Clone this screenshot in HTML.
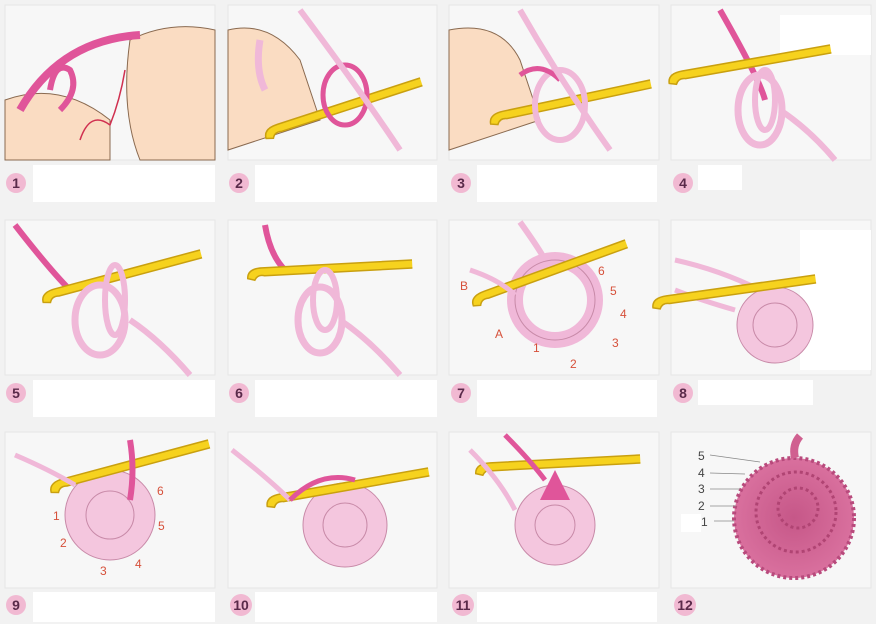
<!DOCTYPE html>
<html><head><meta charset="utf-8"><style>
html,body{margin:0;padding:0;background:#f2f2f2;}
svg{display:block;font-family:"Liberation Sans",sans-serif;}
</style></head><body>
<svg width="876" height="624" viewBox="0 0 876 624" xmlns="http://www.w3.org/2000/svg">
<defs>
<g id="hook"><path d="M0 0 L-150 0 Q-165 0 -165 10 L-158 12 Q-155 6 -148 8 L0 8" fill="#f6d21e" stroke="#c9a010" stroke-width="1.5"/></g>
<radialGradient id="cg" cx="50%" cy="50%" r="50%"><stop offset="0" stop-color="#c65788"/><stop offset="1" stop-color="#d9709e"/></radialGradient>
</defs>
<rect width="876" height="624" fill="#f2f2f2"/>
<!-- panels -->
<g fill="#f7f7f7" stroke="#e6e6e6">
<rect x="5" y="5" width="210" height="155"/><rect x="228" y="5" width="209" height="155"/><rect x="449" y="5" width="210" height="155"/><rect x="671" y="5" width="200" height="155"/>
<rect x="5" y="220" width="210" height="155"/><rect x="228" y="220" width="209" height="155"/><rect x="449" y="220" width="210" height="155"/><rect x="671" y="220" width="200" height="155"/>
<rect x="5" y="432" width="210" height="156"/><rect x="228" y="432" width="209" height="156"/><rect x="449" y="432" width="210" height="156"/><rect x="671" y="432" width="200" height="156"/>
</g>
<!-- label boxes -->
<g fill="#ffffff">
<rect x="33" y="165" width="182" height="37"/><rect x="255" y="165" width="182" height="37"/><rect x="477" y="165" width="180" height="37"/><rect x="698" y="165" width="44" height="25"/>
<rect x="33" y="380" width="182" height="37"/><rect x="255" y="380" width="182" height="37"/><rect x="477" y="380" width="180" height="37"/><rect x="698" y="380" width="115" height="25"/>
<rect x="33" y="592" width="182" height="30"/><rect x="255" y="592" width="182" height="30"/><rect x="477" y="592" width="180" height="30"/>
<rect x="780" y="15" width="91" height="40"/><rect x="800" y="230" width="71" height="140"/>
</g>
<!-- number circles -->
<g fill="#f1b9d2"><circle cx="16" cy="183" r="10"/><circle cx="239" cy="183" r="10"/><circle cx="461" cy="183" r="10"/><circle cx="683" cy="183" r="10"/>
<circle cx="16" cy="393" r="10"/><circle cx="239" cy="393" r="10"/><circle cx="461" cy="393" r="10"/><circle cx="683" cy="393" r="10"/>
<circle cx="16" cy="605" r="10"/><circle cx="241" cy="605" r="11"/><circle cx="463" cy="605" r="11"/><circle cx="685" cy="605" r="11"/></g>
<g fill="#5a2a4a" font-size="14" font-weight="bold" text-anchor="middle">
<text x="16" y="188">1</text><text x="239" y="188">2</text><text x="461" y="188">3</text><text x="683" y="188">4</text>
<text x="16" y="398">5</text><text x="239" y="398">6</text><text x="461" y="398">7</text><text x="683" y="398">8</text>
<text x="16" y="610">9</text><text x="241" y="610">10</text><text x="463" y="610">11</text><text x="685" y="610">12</text></g>

<!-- panel 1 -->
<path d="M5 100 Q60 80 110 120 L110 160 L5 160Z" fill="#fadcc2" stroke="#8a6a50"/>
<path d="M130 40 Q170 20 215 30 L215 160 L140 160 Q120 110 130 40Z" fill="#fadcc2" stroke="#8a6a50"/>
<path d="M20 110 Q60 40 140 35" fill="none" stroke="#e0559a" stroke-width="8"/>
<path d="M50 90 Q55 60 70 70 Q80 90 60 110" fill="none" stroke="#e0559a" stroke-width="6"/>
<path d="M80 140 Q90 110 110 125 Q120 100 125 70" fill="none" stroke="#d03050" stroke-width="1.5"/>
<!-- panel 2 -->
<path d="M228 30 Q270 20 300 60 L320 120 L228 150Z" fill="#fadcc2" stroke="#8a6a50"/>
<path d="M260 40 Q255 70 265 90" stroke="#f0b8d8" stroke-width="7" fill="none"/>
<use href="#hook" transform="translate(420 78) rotate(-18)"/>
<ellipse cx="345" cy="95" rx="22" ry="30" fill="none" stroke="#e0559a" stroke-width="5"/>
<path d="M300 10 Q360 90 400 150" stroke="#f0b8d8" stroke-width="6" fill="none"/>
<!-- panel 3 -->
<path d="M449 30 Q500 20 520 60 L540 120 L449 150Z" fill="#fadcc2" stroke="#8a6a50"/>
<use href="#hook" transform="translate(650 80) rotate(-12)"/>
<ellipse cx="560" cy="105" rx="25" ry="35" fill="none" stroke="#f0b8d8" stroke-width="6"/>
<path d="M520 75 Q540 60 560 80" stroke="#e0559a" stroke-width="5" fill="none"/>
<path d="M520 10 Q560 80 610 150" stroke="#f0b8d8" stroke-width="6" fill="none"/>
<!-- panel 4 -->
<path d="M720 10 Q760 80 765 100" stroke="#e0559a" stroke-width="6" fill="none"/>
<use href="#hook" transform="translate(830 45) rotate(-10)"/>
<ellipse cx="760" cy="110" rx="22" ry="35" fill="none" stroke="#f0b8d8" stroke-width="7"/>
<ellipse cx="765" cy="100" rx="10" ry="30" fill="none" stroke="#f0b8d8" stroke-width="6"/>
<path d="M780 110 Q810 130 835 160" stroke="#f0b8d8" stroke-width="6" fill="none"/>
<!-- panel 5 -->
<path d="M15 225 Q50 270 70 290" stroke="#e0559a" stroke-width="6" fill="none"/>
<use href="#hook" transform="translate(200 250) rotate(-15)"/>
<ellipse cx="100" cy="320" rx="25" ry="35" fill="none" stroke="#f0b8d8" stroke-width="7"/>
<ellipse cx="115" cy="300" rx="10" ry="35" fill="none" stroke="#f0b8d8" stroke-width="6"/>
<path d="M130 320 Q160 340 190 375" stroke="#f0b8d8" stroke-width="6" fill="none"/>
<!-- panel 6 -->
<path d="M265 225 Q270 255 285 270" stroke="#e0559a" stroke-width="6" fill="none"/>
<use href="#hook" transform="translate(412 260) rotate(-3)"/>
<ellipse cx="320" cy="320" rx="22" ry="33" fill="none" stroke="#f0b8d8" stroke-width="7"/>
<ellipse cx="325" cy="300" rx="12" ry="30" fill="none" stroke="#f0b8d8" stroke-width="6"/>
<path d="M340 320 Q370 340 400 375" stroke="#f0b8d8" stroke-width="6" fill="none"/>
<!-- panel 7 -->
<circle cx="555" cy="300" r="40" fill="none" stroke="#f0b8d8" stroke-width="16"/>
<circle cx="555" cy="300" r="40" fill="none" stroke="#c88aa8" stroke-width="1"/>
<use href="#hook" transform="translate(625 240) rotate(-20)"/>
<path d="M520 222 Q540 250 545 260" stroke="#f0b8d8" stroke-width="6" fill="none"/>
<path d="M470 270 Q500 280 515 295" stroke="#f0b8d8" stroke-width="5" fill="none"/>
<g fill="#d6503a" font-size="12"><text x="598" y="275">6</text><text x="610" y="295">5</text><text x="620" y="318">4</text><text x="612" y="347">3</text><text x="570" y="368">2</text><text x="533" y="352">1</text><text x="495" y="338">A</text><text x="460" y="290">B</text></g>
<!-- panel 8 -->
<path d="M675 260 Q720 270 760 290 M675 290 Q700 300 735 310" stroke="#f0b8d8" stroke-width="5" fill="none"/>
<circle cx="775" cy="325" r="38" fill="#f4c6de" stroke="#c88aa8"/>
<circle cx="775" cy="325" r="22" fill="none" stroke="#c88aa8"/>
<use href="#hook" transform="translate(815 275) rotate(-8)"/>
<!-- panel 9 -->
<circle cx="110" cy="515" r="45" fill="#f4c6de" stroke="#c88aa8"/>
<circle cx="110" cy="515" r="24" fill="none" stroke="#c88aa8"/>
<use href="#hook" transform="translate(208 440) rotate(-15)"/>
<path d="M15 455 Q50 470 75 485" stroke="#f0b8d8" stroke-width="5" fill="none"/>
<path d="M130 440 Q135 470 130 500" stroke="#e0559a" stroke-width="6" fill="none"/>
<g fill="#d6503a" font-size="12"><text x="157" y="495">6</text><text x="158" y="530">5</text><text x="135" y="568">4</text><text x="100" y="575">3</text><text x="60" y="547">2</text><text x="53" y="520">1</text></g>
<!-- panel 10 -->
<circle cx="345" cy="525" r="42" fill="#f4c6de" stroke="#c88aa8"/>
<circle cx="345" cy="525" r="22" fill="none" stroke="#c88aa8"/>
<use href="#hook" transform="translate(428 468) rotate(-10)"/>
<path d="M232 450 Q270 480 290 500" stroke="#f0b8d8" stroke-width="5" fill="none"/>
<path d="M290 500 Q320 470 355 480" stroke="#e0559a" stroke-width="5" fill="none"/>
<!-- panel 11 -->
<circle cx="555" cy="525" r="40" fill="#f4c6de" stroke="#c88aa8"/>
<circle cx="555" cy="525" r="20" fill="none" stroke="#c88aa8"/>
<use href="#hook" transform="translate(640 455) rotate(-3)"/>
<path d="M505 435 Q530 460 545 480" stroke="#e0559a" stroke-width="5" fill="none"/>
<path d="M540 500 L555 470 L570 500Z" fill="#e0559a"/>
<path d="M470 450 Q500 480 515 510" stroke="#f0b8d8" stroke-width="5" fill="none"/>
<!-- panel 12 -->
<circle cx="794" cy="518" r="60" fill="url(#cg)"/>
<circle cx="794" cy="518" r="60" fill="none" stroke="#b84a7c" stroke-width="4" stroke-dasharray="3 3"/>
<circle cx="796" cy="512" r="40" fill="none" stroke="#b04473" stroke-width="3" stroke-dasharray="3 3"/>
<circle cx="798" cy="508" r="20" fill="none" stroke="#b04473" stroke-width="3" stroke-dasharray="3 3"/>
<path d="M795 458 Q792 445 800 436" stroke="#d06090" stroke-width="8" fill="none"/>
<rect x="681" y="514" width="20" height="18" fill="#ffffff"/>
<g stroke="#888" stroke-width="0.8"><line x1="710" y1="455" x2="760" y2="462"/><line x1="710" y1="473" x2="745" y2="474"/><line x1="710" y1="489" x2="740" y2="489"/><line x1="710" y1="506" x2="736" y2="506"/><line x1="714" y1="521" x2="734" y2="521"/></g>
<g fill="#444" font-size="12"><text x="698" y="460">5</text><text x="698" y="477">4</text><text x="698" y="493">3</text><text x="698" y="510">2</text><text x="701" y="526">1</text></g>
</svg>
</body></html>
